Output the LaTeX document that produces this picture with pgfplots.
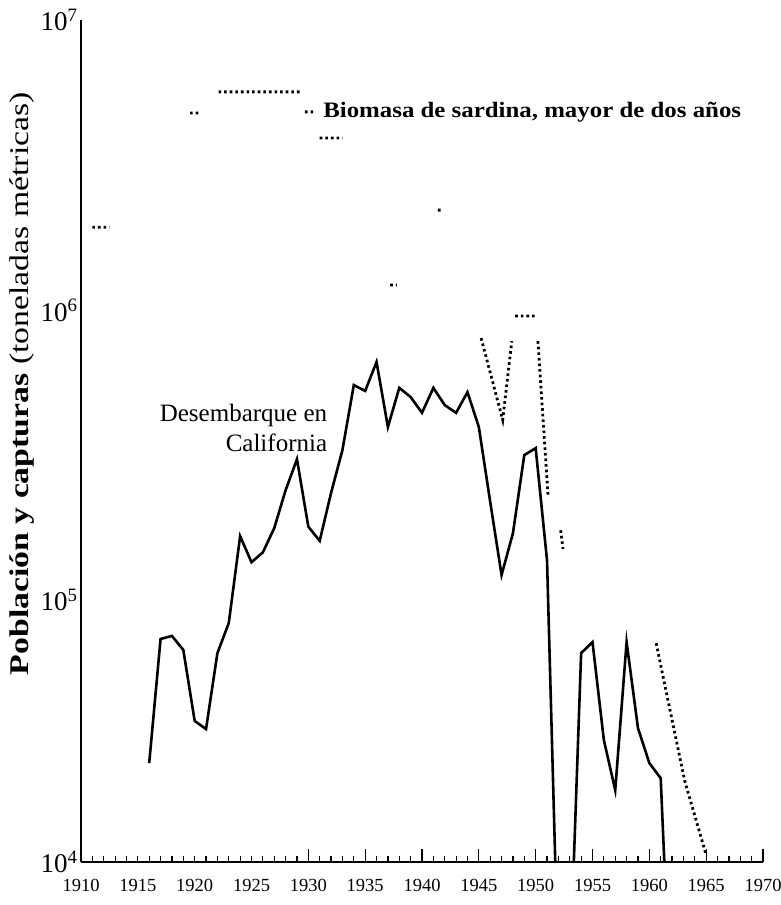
\RequirePackage{fix-cm}
\documentclass[border=0pt]{standalone}
\usepackage{graphicx}
\usepackage{pgfplots}
\pgfplotsset{compat=1.18}
\usepackage{fontspec}
\setmainfont{Liberation Serif}
\pgfplotstableread{
year value
1916 27400
1917 73400
1918 75200
1919 67300
1920 38300
1921 35900
1922 65600
1923 83300
1924 166000
1925 135000
1926 146000
1927 177000
1928 239000
1929 306000
1930 179000
1931 160000
1932 234000
1933 329000
1934 551000
1935 526000
1936 662000
1937 395000
1938 539000
1939 501000
1940 442000
1941 539000
1942 470000
1943 442000
1944 521000
1945 395000
1946 218000
1947 122000
1948 170000
1949 316000
1950 334000
1951 137000
1952 5000
1953 5000
1954 65600
1955 71600
1956 32900
1957 22100
1958 71600
1959 36200
1960 27400
1961 24300
1962 3000
}\landings
\pgfplotstableread{
year value
1911.0 1930000
1912.5 1930000
1913.0 nan
1919.6 4780000
1920.4 4780000
1920.5 nan
1922.1 5650000
1929.3 5650000
1929.5 nan
1929.7 4820000
1930.5 4820000
1930.7 nan
1931.0 3920000
1933.0 3920000
1933.5 nan
1937.2 1220000
1937.8 1220000
1938.0 nan
1941.4 2210000
1941.8 2210000
1942.0 nan
1945.2 800000
1947.1 418000
1947.9 781000
1948.0 nan
1948.2 953000
1950.0 953000
1950.1 nan
1950.2 781000
1951.1 226000
1951.5 nan
1952.2 174000
1952.4 150000
1952.6 nan
1960.6 71000
1963.1 23900
1965.0 13200
}\biomass
\begin{document}
\begin{tikzpicture}[x=1pt,y=1pt]
\path[use as bounding box] (0,0) rectangle (781,905);
\begin{axis}[
  at={(81pt,43pt)}, anchor=south west,
  scale only axis, width=682pt, height=842pt,
  xmin=1910, xmax=1970,
  ymode=log, ymin=12496, ymax=1e7,
  axis lines=left,
  axis line style={line width=2pt,-},
  xtick={1910,1915,...,1970},
  xticklabels={1910,1915,1920,1925,1930,1935,1940,1945,1950,1955,1960,1965,1970},
  minor x tick num=4,
  tick align=inside,
  major tick length=6pt, minor tick length=6pt,
  x tick style={line width=1.2pt, black},
  extra x ticks={1930,1935,...,1970},
  extra x tick labels={},
  extra x tick style={major tick length=13pt, tick style={line width=2pt}},
  xticklabel style={font=\fontsize{18.5}{18.5}\selectfont, yshift=-14pt},
  ytick={12496,1e5,1e6,1e7},
  yticklabels={10\textsuperscript{4},10\textsuperscript{5},10\textsuperscript{6},10\textsuperscript{7}},
  yticklabel style={font=\fontsize{27}{27}\selectfont, xshift=0pt},
  y tick style={draw=none},
  ylabel={\scalebox{1.25}[1]{\textbf{Población y capturas} (toneladas métricas)}},
  ylabel style={font=\fontsize{27}{27}\selectfont, at={(axis description cs:-0.087,0.568)}, anchor=center},
  unbounded coords=jump,
  clip=true,
]
\addplot[black, line width=2.6pt, line join=miter] table[x=year,y=value]{\landings};
\addplot[black, line width=2.8pt, dash pattern=on 2.6pt off 3pt] table[x=year,y=value]{\biomass};
\node[anchor=east, align=right, font=\fontsize{25}{30}\selectfont, inner sep=0pt] at (axis cs:1931.67,392000) {Desembarque en\\California};
\node[anchor=west, font=\bfseries\fontsize{22}{22}\selectfont, inner sep=0pt] at (axis cs:1931.3,4820000) {\scalebox{1.13}[1]{Biomasa de sardina, mayor de dos años}};
\end{axis}
\end{tikzpicture}
\end{document}
